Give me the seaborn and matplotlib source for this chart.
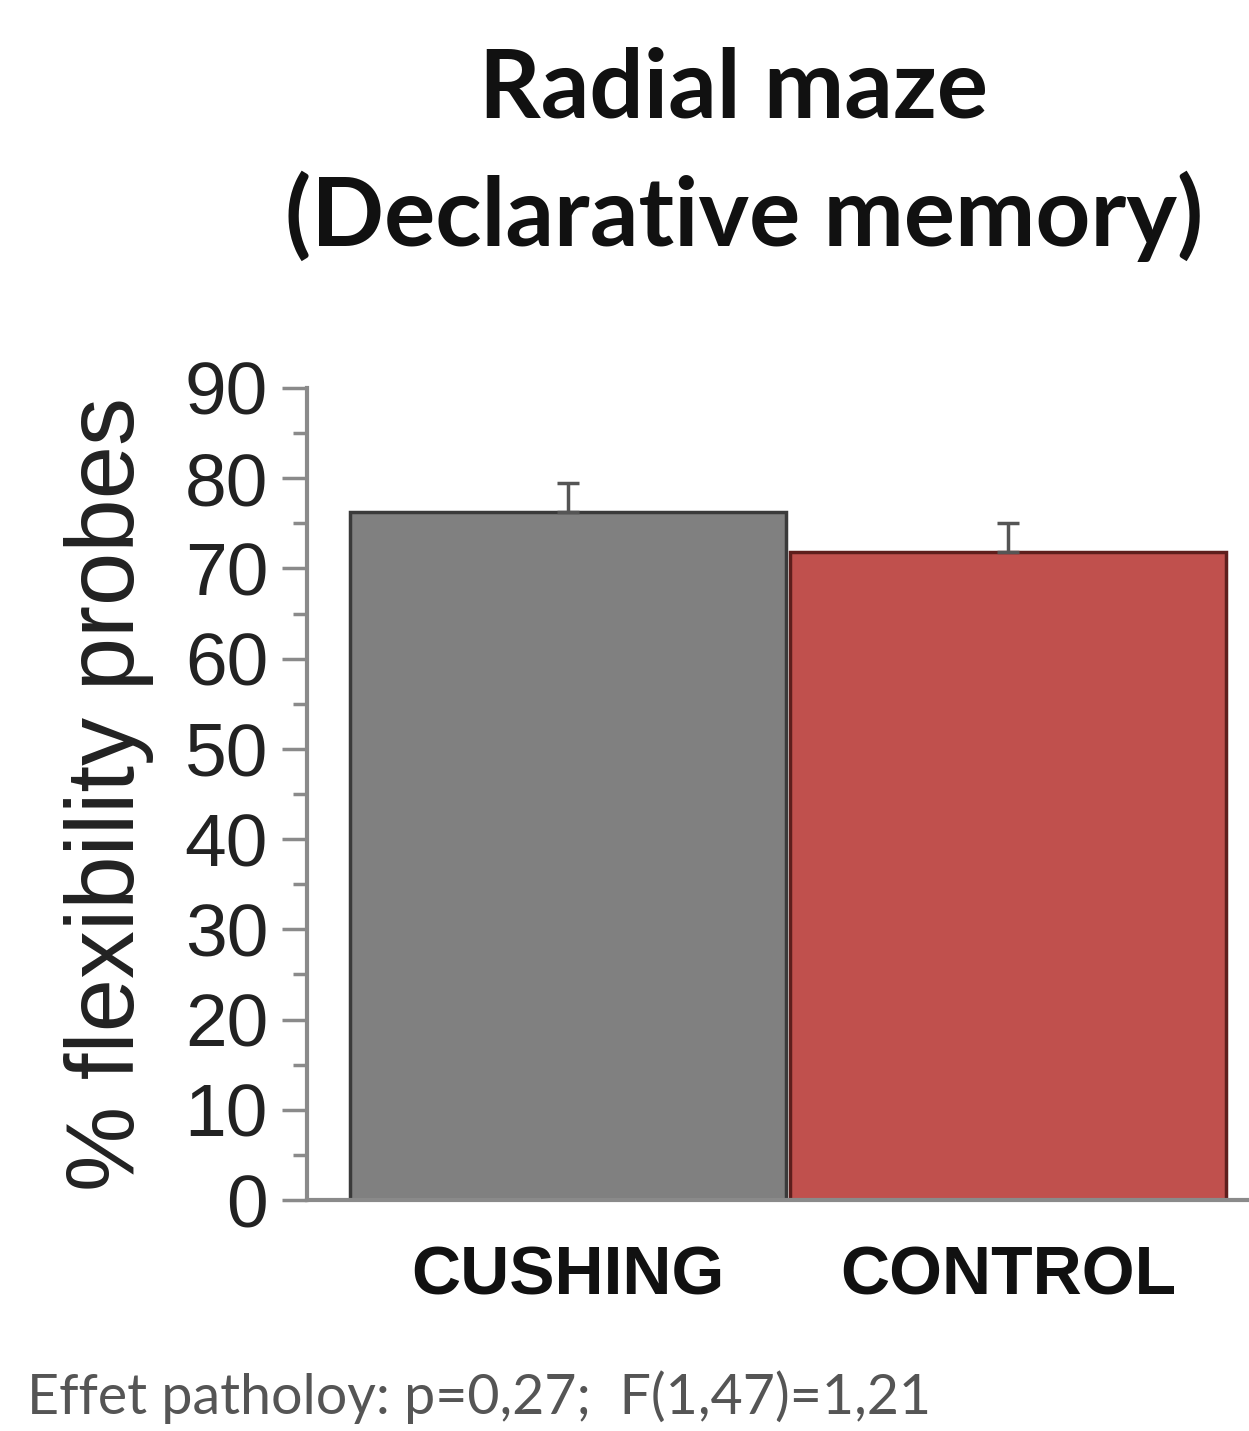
import matplotlib
matplotlib.use("Agg")
import matplotlib.pyplot as plt
import seaborn as sns
import pandas as pd
from matplotlib.ticker import MultipleLocator

groups = ["CUSHING", "CONTROL"]
means = [76.3, 71.8]
sem_up = [3.2, 3.2]
bar_colors = ["#808080", "#C0504D"]
edge_colors = ["#3a3a3a", "#5e1e1c"]

df = pd.DataFrame({"group": groups, "value": means})

sns.set_style("white")
plt.rcParams["font.family"] = ["Liberation Sans", "DejaVu Sans"]

fig = plt.figure(figsize=(12.49, 14.31), dpi=100)
ax = fig.add_axes([0.2458, 0.1614, 0.755, 0.5675])

sns.barplot(data=df, x="group", y="value", hue="group", palette=bar_colors,
            width=0.99, errorbar=None, legend=False, ax=ax, saturation=1)
for patch, ec in zip(ax.patches, edge_colors):
    patch.set_edgecolor(ec)
    patch.set_linewidth(2.5)

ax.errorbar(range(len(groups)), means, yerr=[[0] * len(groups), sem_up],
            fmt="none", ecolor="#555555", elinewidth=2.5, capsize=8, capthick=2.5)

ax.set_ylim(0, 90)
ax.set_xlim(-0.593, 1.55)
ax.yaxis.set_major_locator(MultipleLocator(10))
ax.yaxis.set_minor_locator(MultipleLocator(5))
ax.tick_params(axis="y", which="major", direction="out", length=18, width=2.5,
               color="#8a8a8a", labelsize=54, labelcolor="#222222", pad=10, left=True)
ax.tick_params(axis="y", which="minor", direction="out", length=10, width=2.5,
               color="#8a8a8a", left=True)
ax.tick_params(axis="x", length=0, pad=32)
for lab in ax.get_xticklabels():
    lab.set_fontsize(49)
    lab.set_fontweight("bold")
    lab.set_color("#111111")

sns.despine(ax=ax)
for s in ["left", "bottom"]:
    ax.spines[s].set_color("#8a8a8a")
    ax.spines[s].set_linewidth(3)

ax.set_xlabel("")
ax.set_ylabel("% flexibility probes", fontsize=69, color="#222222", labelpad=22)

fig.text(0.587, 0.937, "Radial maze", ha="center", va="center",
         fontsize=69, fontweight="bold", family=["Lato", "DejaVu Sans"], color="#111111")
fig.text(0.596, 0.849, "(Declarative memory)", ha="center", va="center",
         fontsize=69, fontweight="bold", family=["Lato", "DejaVu Sans"], color="#111111")
fig.text(0.022, 0.024, "Effet patholoy: p=0,27;  F(1,47)=1,21", ha="left", va="center",
         fontsize=40, family=["Lato", "DejaVu Sans"], color="#555555")

fig.savefig("out.png", dpi=100, facecolor="white")
